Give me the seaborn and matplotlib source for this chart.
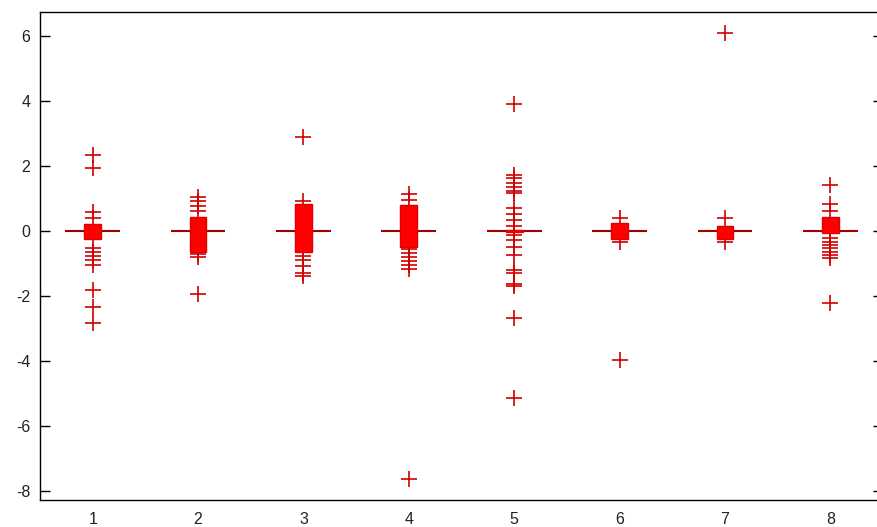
import numpy as np
import pandas as pd
import matplotlib
matplotlib.use("Agg")
import matplotlib.pyplot as plt
import seaborn as sns

# ---- data ----
groups = ["1", "2", "3", "4", "5", "6", "7", "8"]

# individual points drawn as '+'
g1_points = [2.34, 1.95, 0.57, 0.40, -0.51, -0.64, -0.77, -0.90, -1.05, -1.82, -2.33, -2.84]
g2_points = [1.06, 0.92, 0.77, 0.62, -0.71, -0.79, -1.95]
g3_points = [2.89, 0.93, -0.77, -0.89, -1.08, -1.28, -1.38]
g4_points = [1.14, 0.95, -0.56, -0.69, -0.81, -0.93, -1.06, -1.18, -7.63]
g5_points = [3.91, 1.72, 1.62, 1.49, 1.36, 1.24, 1.18, 0.70, 0.51, 0.34, 0.16,
             -0.12, -0.28, -0.50, -0.74, -1.20, -1.29, -1.63, -1.69, -2.68, -5.14]
g6_points = [0.39, -0.35, -3.98]
g7_points = [6.10, 0.39, -0.35]
g8_points = [1.42, 0.82, 0.62, -0.23, -0.33, -0.43, -0.53, -0.64, -0.74, -0.84, -2.22]

# box summary (lower quartile, median, upper quartile) and number of samples at each
box_q1 = [-0.25, -0.64, -0.64, -0.48, -0.03, -0.26, -0.26, -0.07]
box_med = [0.0, 0.0, 0.0, 0.0, 0.0, 0.0, 0.0, 0.0]
box_q3 = [0.21, 0.44, 0.83, 0.80, 0.03, 0.24, 0.15, 0.44]
core_n = [10, 10, 10, 10, 20, 6, 6, 10]

y_ticks = [-8, -6, -4, -2, 0, 2, 4, 6]

# ---- build tables ----
all_points = [g1_points, g2_points, g3_points, g4_points,
              g5_points, g6_points, g7_points, g8_points]
pt_rows, box_rows = [], []
for g, pts, q1, md, q3, n in zip(groups, all_points, box_q1, box_med, box_q3, core_n):
    for v in pts:
        pt_rows.append((g, v))
        box_rows.append((g, v))
    for v in np.repeat([q1, md, q3], n):
        box_rows.append((g, float(v)))
pts_df = pd.DataFrame(pt_rows, columns=["group", "value"])
box_df = pd.DataFrame(box_rows, columns=["group", "value"])

# ---- plot ----
sns.set_theme(style="white")
plt.rcParams["font.family"] = ["Liberation Sans", "DejaVu Sans"]

fig = plt.figure(figsize=(8.78, 5.27), dpi=100)
ax = fig.add_axes([40 / 878, 1 - 500 / 527, 843 / 878, 488 / 527])

marker_col = "#d00000"
sns.stripplot(data=pts_df, x="group", y="value", order=groups, jitter=False,
              marker="+", color=marker_col, size=12, linewidth=1.2, ax=ax, zorder=1)

# wide median line
sns.boxplot(data=box_df, x="group", y="value", order=groups, width=0.52,
            fill=False, showfliers=False, whis=1.5,
            boxprops=dict(visible=False), whiskerprops=dict(visible=False),
            capprops=dict(visible=False),
            medianprops=dict(color="#a00000", linewidth=1.5, zorder=2), ax=ax)

# narrow filled boxes
sns.boxplot(data=box_df, x="group", y="value", order=groups, width=0.16,
            color="#ff0000", linecolor="#e00000", linewidth=1.0, saturation=1,
            showfliers=False, whis=1.5,
            capprops=dict(visible=False), whiskerprops=dict(visible=False),
            boxprops=dict(zorder=3),
            medianprops=dict(visible=False), ax=ax)

ax.set_xlim(-0.5, 7.5)
ax.set_ylim(-8.28, 6.74)
ax.set_yticks(y_ticks)
ax.set_yticklabels([str(t) for t in y_ticks])
ax.set_xlabel("")
ax.set_ylabel("")

for s in ax.spines.values():
    s.set_visible(True)
    s.set_color("black")
    s.set_linewidth(1.0)

ax.tick_params(axis="y", which="both", direction="in", length=7, width=1.0,
               left=True, right=True, labelleft=True, labelright=False,
               labelsize=11.5, labelcolor="#222222", pad=7, color="black")
ax.tick_params(axis="x", which="both", length=0, labelsize=11.5,
               labelcolor="#222222", pad=9)

fig.savefig("out.png", dpi=100, facecolor="white")
